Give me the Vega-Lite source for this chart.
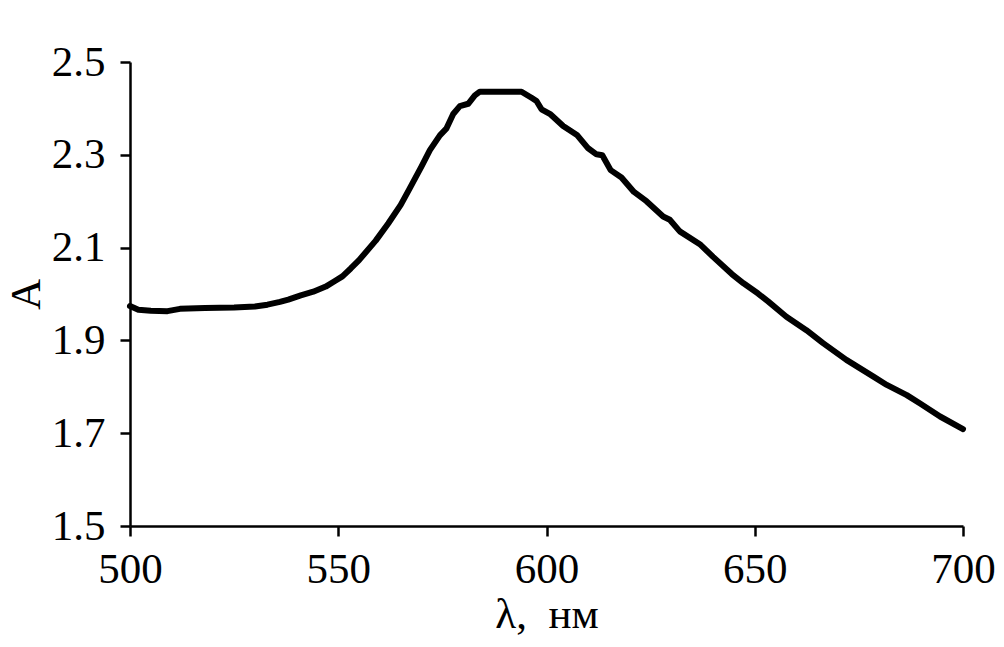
{
  "$schema": "https://vega.github.io/schema/vega-lite/v6.json",
  "width": 833,
  "height": 464,
  "autosize": {"type": "none"},
  "padding": {"left": 130, "top": 62, "right": 41, "bottom": 121},
  "background": "white",
  "config": {
    "view": {"stroke": null},
    "axis": {
      "grid": false,
      "domainColor": "black",
      "domainWidth": 2.5,
      "tickColor": "black",
      "tickWidth": 2.5,
      "tickSize": 10,
      "labelFont": "Liberation Serif",
      "labelFontSize": 43,
      "labelColor": "black",
      "titleFont": "Liberation Serif",
      "titleFontSize": 43,
      "titleFontWeight": "normal",
      "titleColor": "black"
    }
  },
  "data": {
    "values": [
      {"nm": 500, "A": 1.974}, {"nm": 502, "A": 1.966}, {"nm": 505, "A": 1.964}, {"nm": 509, "A": 1.963},
      {"nm": 512, "A": 1.968}, {"nm": 518, "A": 1.970}, {"nm": 525, "A": 1.971}, {"nm": 530, "A": 1.973},
      {"nm": 533, "A": 1.977}, {"nm": 536, "A": 1.983}, {"nm": 538, "A": 1.988}, {"nm": 541, "A": 1.997},
      {"nm": 544, "A": 2.005}, {"nm": 547, "A": 2.016}, {"nm": 549, "A": 2.027}, {"nm": 551, "A": 2.038},
      {"nm": 553, "A": 2.055}, {"nm": 555, "A": 2.073}, {"nm": 559, "A": 2.115}, {"nm": 562, "A": 2.152},
      {"nm": 565, "A": 2.192}, {"nm": 567, "A": 2.225}, {"nm": 570, "A": 2.275}, {"nm": 572, "A": 2.310},
      {"nm": 574.4, "A": 2.342}, {"nm": 576, "A": 2.357}, {"nm": 577.6, "A": 2.388}, {"nm": 579.2, "A": 2.405},
      {"nm": 581.2, "A": 2.410}, {"nm": 582.8, "A": 2.428}, {"nm": 584, "A": 2.436}, {"nm": 594, "A": 2.436},
      {"nm": 596.4, "A": 2.423}, {"nm": 597.6, "A": 2.416}, {"nm": 598.8, "A": 2.398}, {"nm": 601, "A": 2.387},
      {"nm": 604, "A": 2.362}, {"nm": 607.4, "A": 2.342}, {"nm": 610, "A": 2.314}, {"nm": 612, "A": 2.301},
      {"nm": 613.4, "A": 2.299}, {"nm": 615.4, "A": 2.267}, {"nm": 618, "A": 2.251}, {"nm": 621, "A": 2.220},
      {"nm": 624, "A": 2.200}, {"nm": 628, "A": 2.167}, {"nm": 629.6, "A": 2.160}, {"nm": 632, "A": 2.135},
      {"nm": 637, "A": 2.106}, {"nm": 640, "A": 2.080}, {"nm": 644.5, "A": 2.043}, {"nm": 647.3, "A": 2.023},
      {"nm": 650.8, "A": 2.001}, {"nm": 653.2, "A": 1.984}, {"nm": 657.6, "A": 1.951}, {"nm": 662.4, "A": 1.922},
      {"nm": 666.4, "A": 1.894}, {"nm": 672, "A": 1.858}, {"nm": 678.5, "A": 1.822}, {"nm": 681.7, "A": 1.804},
      {"nm": 686.5, "A": 1.782}, {"nm": 689.7, "A": 1.764}, {"nm": 694.5, "A": 1.736}, {"nm": 700, "A": 1.709}
    ]
  },
  "mark": {"type": "line", "color": "black", "strokeWidth": 6, "strokeJoin": "round", "strokeCap": "round"},
  "encoding": {
    "x": {
      "field": "nm", "type": "quantitative",
      "scale": {"domain": [500, 700], "nice": false, "zero": false},
      "axis": {"values": [500, 550, 600, 650, 700], "title": "λ,\u00a0 нм", "labelPadding": 12, "titlePadding": 2, "labelFlush": false}
    },
    "y": {
      "field": "A", "type": "quantitative",
      "scale": {"domain": [1.5, 2.5], "nice": false, "zero": false},
      "axis": {"values": [1.5, 1.7, 1.9, 2.1, 2.3, 2.5], "format": ".1f", "title": "A", "labelPadding": 15, "titlePadding": 3}
    }
  }
}
